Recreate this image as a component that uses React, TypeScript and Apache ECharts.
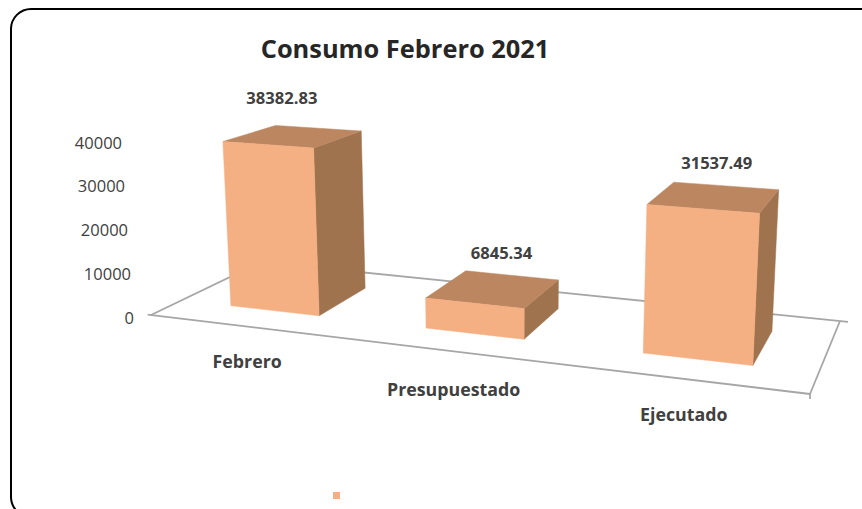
import React, { useEffect, useRef } from "react";
import * as echarts from "echarts";

const categories = ["Febrero", "Presupuestado", "Ejecutado"];
const consumo = [38382.83, 6845.34, 31537.49];
const yTicks = [0, 10000, 20000, 30000, 40000];
const titleText = "Consumo Febrero 2021";

// Perspective layout of the floor and of the boxes that stand on it
const FLOOR = { a: [151, 315], b: [810, 394], c: [840, 321], d: [261, 262] };
const VANISH = [505, 5960];
const LIFT = 1.719e-4;
const BAR_U = 0.155;
const BAR_V = [0.255, 0.74];
const LABEL_NUDGE = [[-11.5, -38.7], [8, -37], [2, -35]];
const CAT_NUDGE = [[1, 34.6], [1, 37.8], [0, 35.2]];

const FRONT = "#F4AF82";
const TOP = "#BB8660";
const SIDE = "#A0734F";
const FLOOR_LINE = "#A6A6A6";
const FONT = "'Open Sans', sans-serif";

const [x0, y0] = FLOOR.a, [x1, y1] = FLOOR.b, [x2, y2] = FLOOR.c, [x3, y3] = FLOOR.d;
const den = (x1 - x2) * (y3 - y2) - (y1 - y2) * (x3 - x2);
const sx = x0 - x1 + x2 - x3;
const sy = y0 - y1 + y2 - y3;
const g = (sx * (y3 - y2) - (x3 - x2) * sy) / den;
const h = ((x1 - x2) * sy - sx * (y1 - y2)) / den;
const project = (u: number, v: number, lift = 0) => {
  const w = g * u + h * v + 1;
  const px = ((x1 - x0 + g * x1) * u + (x3 - x0 + h * x3) * v + x0) / w;
  const py = ((y1 - y0 + g * y1) * u + (y3 - y0 + h * y3) * v + y0) / w;
  const q = lift * LIFT;
  const s = q / (w - q);
  return [px + s * (px - VANISH[0]), py + s * (py - VANISH[1])];
};

const renderFloor = () => {
  const line = (p: number[], r: number[]) => ({
    type: "line",
    shape: { x1: p[0], y1: p[1], x2: r[0], y2: r[1] },
    style: { stroke: FLOOR_LINE, lineWidth: 1.8 },
  });
  return {
    type: "group",
    silent: true,
    children: [
      line(project(-0.006, 0), project(1, 0)),
      line(project(0, 0), project(0, 1)),
      line(project(0, 1), project(1.012, 1)),
      line(project(1, 0), project(1, 1)),
      line(project(1, 0), [x1, y1 + 5]),
    ],
  };
};

const renderBar = (params: any, api: any) => {
  const i = api.value(0);
  const value = api.value(1);
  const cs = params.coordSys;
  const uc = (api.coord([i, 0])[0] - cs.x) / cs.width;
  const lift = api.coord([i, 0])[1] - api.coord([i, value])[1];
  const ul = uc - BAR_U / 2, ur = uc + BAR_U / 2;
  const [vf, vb] = BAR_V;
  const fbl = project(ul, vf), fbr = project(ur, vf), bbr = project(ur, vb);
  const ftl = project(ul, vf, lift), ftr = project(ur, vf, lift);
  const btl = project(ul, vb, lift), btr = project(ur, vb, lift);
  const cx = (ftl[0] + ftr[0] + btl[0] + btr[0]) / 4;
  const cy = (ftl[1] + ftr[1] + btl[1] + btr[1]) / 4;
  const nudge = LABEL_NUDGE[i];
  const catNudge = CAT_NUDGE[i];
  const catAt = project(uc, 0);
  const poly = (points: number[][], fill: string) => ({
    type: "polygon",
    shape: { points },
    style: { fill, stroke: fill, lineWidth: 0.5 },
  });
  return {
    type: "group",
    children: [
      poly([ftr, btr, bbr, fbr], SIDE),
      poly([ftl, btl, btr, ftr], TOP),
      poly([ftl, ftr, fbr, fbl], FRONT),
      {
        type: "text",
        style: {
          x: cx + nudge[0], y: cy + nudge[1], text: String(value),
          align: "center", verticalAlign: "middle",
          font: `bold 16.6px ${FONT}`, fill: "#404040",
        },
      },
      {
        type: "text",
        style: {
          x: catAt[0] + catNudge[0], y: catAt[1] + catNudge[1], text: categories[i],
          align: "center", verticalAlign: "middle",
          font: `bold 17.8px ${FONT}`, fill: "#404040",
        },
      },
    ],
  };
};

export default function App() {
  const ref = useRef<HTMLDivElement>(null);
  useEffect(() => {
    const chart = echarts.init(ref.current!, undefined, { renderer: "svg" });
    const tickStyle = (pad: number) => ({ padding: [0, pad, 0, 0], fontFamily: FONT, fontSize: 16.5, color: "#404040" });
    chart.setOption({
      animation: false,
      backgroundColor: "#ffffff",
      color: [FRONT],
      title: {
        text: titleText,
        left: 400,
        top: 30,
        textAlign: "center",
        textStyle: { fontFamily: FONT, fontWeight: "bold", fontSize: 25.4, color: "#262626" },
      },
      legend: {
        left: 333,
        top: 492,
        padding: 0,
        itemWidth: 7,
        itemHeight: 7,
        icon: "rect",
        selectedMode: false,
        data: [" "],
        textStyle: { fontSize: 1 },
      },
      grid: { left: 140, right: 22, top: 142, height: 175 },
      xAxis: { type: "category", data: categories, show: false },
      yAxis: {
        type: "value",
        min: 0,
        max: 40000,
        interval: 10000,
        axisLine: { show: false },
        axisTick: { show: false },
        splitLine: { show: false },
        axisLabel: {
          margin: 6,
          formatter: (val: number) => `{t${yTicks.indexOf(val)}|${val}}`,
          rich: { t0: tickStyle(0), t1: tickStyle(3), t2: tickStyle(6), t3: tickStyle(9), t4: tickStyle(12) },
        },
      },
      graphic: [
        {
          type: "rect",
          z: -1,
          silent: true,
          shape: { x: 11, y: 9, width: 869, height: 508, r: 20 },
          style: { fill: "none", stroke: "#000000", lineWidth: 2 },
        },
      ],
      series: [
        {
          type: "custom",
          name: "floor",
          data: [[0, 0]],
          clip: false,
          silent: true,
          z: 1,
          renderItem: renderFloor,
        },
        {
          type: "custom",
          name: " ",
          data: categories.map((_, i) => [i, consumo[i]]),
          encode: { x: 0, y: 1 },
          clip: false,
          z: 2,
          itemStyle: { color: FRONT },
          renderItem: renderBar,
        },
      ],
    });
    return () => chart.dispose();
  }, []);
  return <div ref={ref} style={{ position: "fixed", left: 0, top: 0, width: 862, height: 509 }} />;
}
